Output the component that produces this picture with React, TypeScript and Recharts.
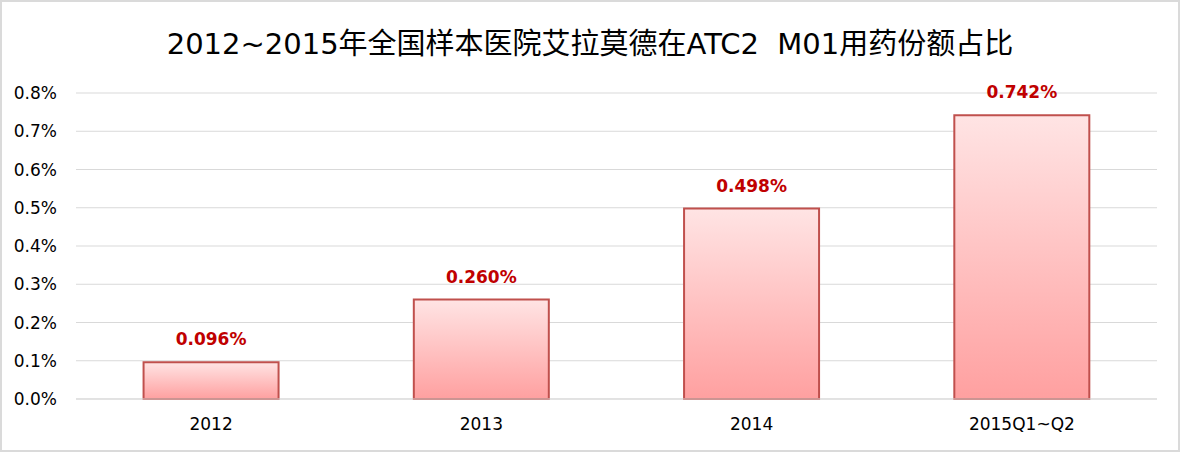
import { BarChart, Bar, XAxis, YAxis, CartesianGrid, LabelList } from 'recharts'

const categories = ['2012', '2013', '2014', '2015Q1~Q2']
const shares = [0.096, 0.26, 0.498, 0.742]
const yTicks = [0, 0.1, 0.2, 0.3, 0.4, 0.5, 0.6, 0.7, 0.8]

const chartTitle = '2012~2015年全国样本医院艾拉莫德在ATC2  M01用药份额占比'

const FONT = "'DejaVu Sans', 'Noto Sans CJK SC', sans-serif"

export default function App() {
  // table for recharts
  const data = categories.map((name, i) => ({ name, value: shares[i] }))

  return (
    <div
      style={{
        position: 'absolute',
        left: 0,
        top: 0,
        width: 1180,
        height: 452,
        background: '#fff',
        fontFamily: FONT
      }}>
      <div
        style={{
          position: 'absolute',
          left: 0,
          top: 24,
          width: 1180,
          height: 40,
          lineHeight: '40px',
          textAlign: 'center',
          fontSize: 29,
          color: '#000',
          whiteSpace: 'pre'
        }}>
        {chartTitle}
      </div>
      <BarChart
        width={1180}
        height={452}
        data={data}
        margin={{ top: 93, right: 23, bottom: 23, left: 10 }}
        barCategoryGap="25%">
        <defs>
          <linearGradient id="barFill" x1="0" y1="0" x2="0" y2="1">
            <stop offset="0%" stopColor="#FFE4E4" />
            <stop offset="100%" stopColor="#FFA0A0" />
          </linearGradient>
        </defs>
        <CartesianGrid vertical={false} stroke="#D9D9D9" />
        <XAxis
          dataKey="name"
          height={30}
          axisLine={{ stroke: '#D9D9D9' }}
          tickLine={false}
          tickSize={6}
          tickMargin={13}
          tick={{ fill: '#000', fontSize: 17, fontFamily: FONT }}
        />
        <YAxis
          width={66}
          domain={[0, 0.8]}
          ticks={yTicks}
          interval={0}
          axisLine={false}
          tickLine={false}
          tickSize={6}
          tickMargin={13}
          tickFormatter={(v: number) => `${v.toFixed(1)}%`}
          tick={{ fill: '#000', fontSize: 17, fontFamily: FONT }}
        />
        <Bar
          dataKey="value"
          fill="url(#barFill)"
          stroke="#C0504D"
          strokeWidth={2}
          isAnimationActive={false}>
          <LabelList
            dataKey="value"
            position="top"
            offset={17}
            formatter={(v: number) => `${v.toFixed(3)}%`}
            style={{ fill: '#C00000', fontSize: 17, fontWeight: 'bold', fontFamily: FONT }}
          />
        </Bar>
      </BarChart>
      <div
        style={{
          position: 'absolute',
          left: 0,
          top: 0,
          width: 1180,
          height: 452,
          boxSizing: 'border-box',
          border: '2px solid #DADADA',
          pointerEvents: 'none'
        }}
      />
    </div>
  )
}
